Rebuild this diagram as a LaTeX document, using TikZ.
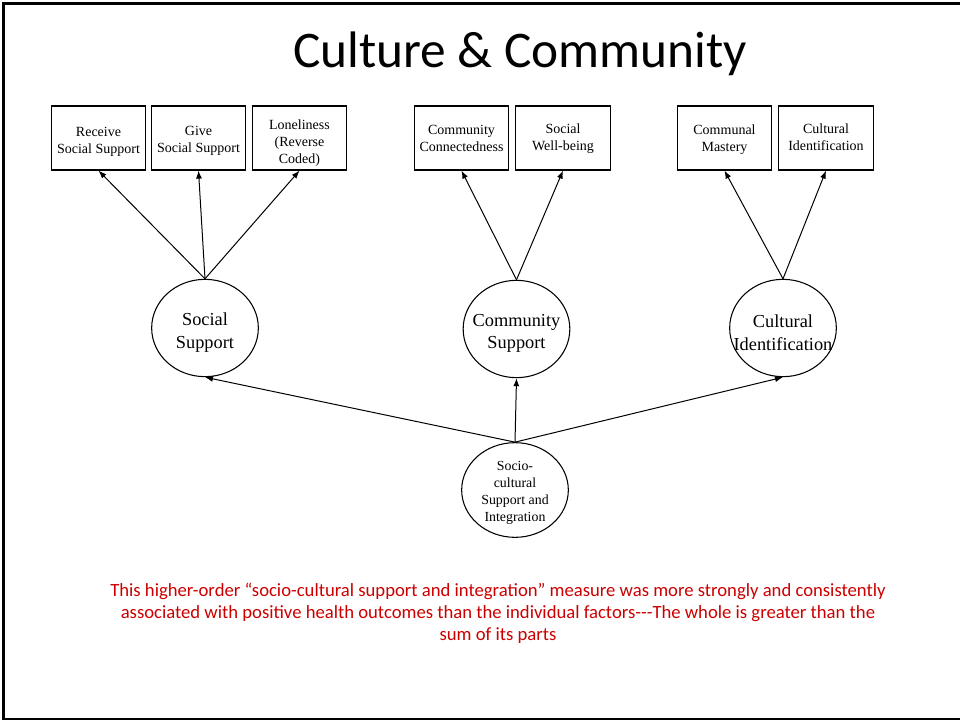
\documentclass[tikz,border=0pt]{standalone}
\usepackage{fontspec}
\setmainfont{Liberation Serif}
\newfontfamily\slidefont{Carlito}
\usetikzlibrary{shapes.geometric,arrows.meta}
\definecolor{notered}{RGB}{204,0,0}
\begin{document}
\begin{tikzpicture}[x=0.75pt,y=-0.75pt,
  indicator/.style={draw,line width=0.9pt,rectangle,inner sep=0pt,
    minimum width=71pt,minimum height=48pt},
  ilabel/.style={align=center,yshift=-3pt,font=\fontsize{10.5}{12.75}\selectfont},
  factor/.style={draw,line width=0.8pt,ellipse,inner sep=0pt,
    minimum width=80pt,minimum height=73pt},
  flabel/.style={align=center,yshift=-3.5pt,font=\fontsize{13.75}{16.75}\selectfont},
  slabel/.style={align=center,yshift=-2.25pt,font=\fontsize{10.4}{12.75}\selectfont},
  path/.style={-{Latex[length=6pt,width=4.5pt]},line width=0.75pt}]
  \useasboundingbox (0,0) rectangle (960,721);
  % slide frame
  \draw[line width=1.6pt,line cap=rect] (960,3.5) -- (3.5,3.5) -- (3.5,719) -- (960,719);
  % title
  \node (title) at (520,54) {\slidefont\fontsize{38.5}{46}\selectfont Culture \& Community};

  % observed indicators
  \node[indicator,label={[ilabel]center:Receive\\Social Support}] (rss) at (98.5,138) {};
  \node[indicator,label={[ilabel,yshift=0.75pt]center:Give\\Social Support}] (gss) at (198.5,138) {};
  \node[indicator,label={[ilabel,yshift=-0.5pt]center:Loneliness\\(Reverse\\Coded)}] (lon) at (299.5,138) {};
  \node[indicator,label={[ilabel,yshift=3pt]center:Community\\Connectedness}] (cc)  at (461.5,138) {};
  \node[indicator,label={[ilabel,yshift=2.25pt]center:Social\\Well-being}] (swb) at (563,138) {};
  \node[indicator,label={[ilabel,yshift=1.5pt]center:Communal\\Mastery}] (cm)  at (724.5,138) {};
  \node[indicator,label={[ilabel,yshift=3.5pt]center:Cultural\\Identification}] (cid) at (826,138) {};

  % first-order factors
  \node[factor,label={[flabel]center:Social\\Support}] (ss) at (205,328) {};
  \node[factor,label={[flabel]center:Community\\Support}] (cs) at (516.5,329) {};
  \node[factor,label={[flabel]center:Cultural\\Identification}] (ci) at (783,328) {};

  % higher-order factor
  \node[factor,minimum height=71pt,label={[slabel]center:Socio-\\cultural\\Support and\\Integration}] (sci) at (515,490) {};

  % loadings
  \draw[path] (ss.north) -- (rss.south);
  \draw[path] (ss.north) -- (gss.south);
  \draw[path] (ss.north) -- (lon.south);
  \draw[path] (cs.north) -- (cc.south);
  \draw[path] (cs.north) -- (swb.south);
  \draw[path] (ci.north) -- (cm.south);
  \draw[path] (ci.north) -- (cid.south);
  \draw[path] (sci.north) -- (ss.south);
  \draw[path] (sci.north) -- (cs.south);
  \draw[path] (sci.north) -- (ci.south);

  % note
  \node[text=notered,align=center,font=\slidefont\fontsize{14}{16.5}\selectfont] (note) at (498,613)
    {This higher-order \char"201C socio-cultural support and integration\char"201D{} measure was more strongly and consistently\\
     associated with positive health outcomes than the individual factors---The whole is greater than the\\
     sum of its parts};
\end{tikzpicture}
\end{document}
